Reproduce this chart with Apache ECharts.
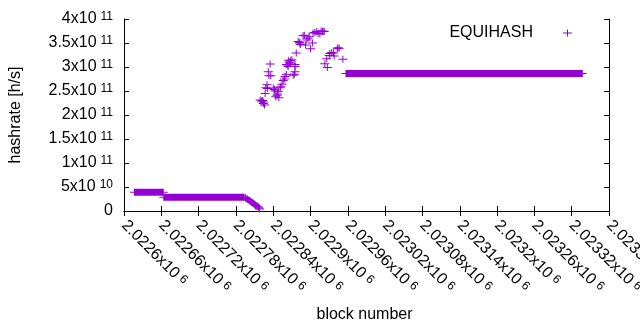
<!DOCTYPE html>
<html><head><meta charset="utf-8">
<script src="https://cdn.jsdelivr.net/npm/echarts@6/dist/echarts.min.js"></script>
<style>html,body{margin:0;padding:0;background:#fff}#c{width:640px;height:330px}</style>
</head><body><div id="c"></div>
<script>
// ---- data ----
const seriesName = 'EQUIHASH';
const xRange = [2022600, 2023380];
const xTickStep = 60;
const yRange = [0, 4e11];
const yTickStep = 5e10;

// long flat stretches (every block has the same hashrate): start block, end block, value
const runStart = [2022617, 2022664, 2022957];
const runEnd   = [2022663, 2022793, 2023337];
const runValue = [3.92e10, 2.85e10, 2.865e11];

// individual points
const pointBlocks = [
  2022795, 2022796, 2022798, 2022799, 2022801, 2022803, 2022804, 2022806, 2022808, 2022809,
  2022811, 2022812, 2022814, 2022816, 2022817, 2022818,
  2022819, 2022821, 2022823, 2022824, 2022824, 2022826, 2022827, 2022828, 2022830, 2022831,
  2022832, 2022833, 2022835, 2022836, 2022840, 2022842, 2022843, 2022844, 2022846, 2022847,
  2022848, 2022849, 2022851, 2022852, 2022854, 2022856, 2022858, 2022859, 2022861, 2022861,
  2022863, 2022864, 2022865, 2022866, 2022868, 2022868, 2022870, 2022872, 2022874, 2022875,
  2022875, 2022875, 2022877, 2022880, 2022882, 2022883, 2022884, 2022888, 2022890, 2022892,
  2022894, 2022896, 2022898, 2022900, 2022903, 2022904, 2022907, 2022910, 2022912, 2022915,
  2022917, 2022919, 2022920, 2022922, 2022923, 2022926, 2022927, 2022930, 2022931, 2022934,
  2022937, 2022938, 2022943, 2022944, 2022946, 2022952
];
const pointHashrate = [
  2.81e10, 2.67e10, 2.54e10, 2.40e10, 2.25e10, 2.08e10, 1.94e10, 1.77e10, 1.60e10, 1.46e10,
  1.29e10, 1.15e10, 0.98e10, 0.83e10, 0.63e10, 0.42e10,
  2.31e11, 2.29e11, 2.30e11, 2.27e11, 2.24e11, 2.21e11, 2.45e11, 2.57e11, 2.63e11, 2.55e11,
  2.90e11, 2.82e11, 3.06e11, 2.82e11, 2.56e11, 2.53e11, 2.50e11, 2.38e11, 2.41e11, 2.44e11,
  2.49e11, 2.36e11, 2.57e11, 2.59e11, 2.64e11, 2.72e11, 2.75e11, 2.80e11, 2.85e11, 3.05e11,
  3.04e11, 3.01e11, 3.14e11, 3.10e11, 3.13e11, 3.07e11, 3.15e11, 2.83e11, 2.85e11, 2.90e11,
  3.01e11, 3.05e11, 3.29e11, 3.53e11, 3.50e11, 3.51e11, 3.47e11, 3.65e11, 3.66e11, 3.46e11,
  3.56e11, 3.60e11, 3.63e11, 3.38e11, 3.50e11, 3.71e11, 3.72e11, 3.74e11, 3.70e11, 3.69e11,
  3.75e11, 3.74e11, 3.75e11, 3.74e11, 3.07e11, 3.17e11, 2.99e11, 3.24e11, 3.28e11, 3.30e11,
  3.29e11, 3.23e11, 3.38e11, 3.40e11, 3.39e11, 3.16e11
];

// ---- drawing ----
const COLOR = '#9400d3';
const FONT = "'Liberation Sans', Arial, sans-serif";
const PLUS = 'path://M4,0h1v3h4v1h-4v3h-1v-3h-4v-1h4z';
const LEGEND_PLUS = 'path://M0,0M60,7M29,0h1v3h4v1h-4v3h-1v-3h-4v-1h4z';

const rich = {
  m: {fontSize: 16, fontFamily: FONT, color: '#000'},
  s: {fontSize: 12, fontFamily: FONT, color: '#000', verticalAlign: 'top', padding: [0, 0, 0, 4]}
};
function sciY(v) {
  if (v === 0) return '{m|0}';
  const e = Math.floor(Math.log10(v) + 1e-9);
  const m = +(v / Math.pow(10, e)).toFixed(4);
  return '{m|' + m + 'x10}{s|' + e + '}';
}
function sciX(v) {
  const e = Math.floor(Math.log10(v) + 1e-9);
  const m = +(v / Math.pow(10, e)).toFixed(5);
  return '{m|' + m + 'x10}{s|' + e + '}';
}

const axisLine = {show: true, lineStyle: {color: '#000', width: 1}};
const tick = {show: true, inside: true, length: 5, lineStyle: {color: '#000'}};

const runSeries = runStart.map((s, i) => ({
  type: 'line', name: 'run' + i,
  data: [[s, runValue[i]], [runEnd[i], runValue[i]]],
  lineStyle: {width: 7, color: COLOR, cap: 'butt'},
  itemStyle: {color: COLOR},
  symbol: PLUS, symbolSize: [9, 7], showSymbol: true, showAllSymbol: true,
  animation: false, silent: true
}));

const chart = echarts.init(document.getElementById('c'), null, {renderer: 'canvas'});
chart.setOption({
  animation: false,
  backgroundColor: '#fff',
  textStyle: {fontFamily: FONT},
  grid: {left: 124, right: 31, top: 19, bottom: 119, containLabel: false, outerBoundsMode: 'none'},
  legend: {
    data: [{name: seriesName, icon: LEGEND_PLUS}],
    right: 37, top: 20, align: 'right',
    itemWidth: 60, itemHeight: 7,
    textStyle: {fontSize: 16, color: '#000', fontFamily: FONT},
    selectedMode: false
  },
  xAxis: [{
    type: 'value', position: 'bottom', min: xRange[0], max: xRange[1], interval: xTickStep,
    axisLine, axisTick: tick, splitLine: {show: false},
    axisLabel: {rotate: -45, margin: 12, formatter: sciX, rich},
    name: 'block number', nameLocation: 'middle', nameGap: 96,
    nameTextStyle: {fontSize: 16, color: '#000', fontFamily: FONT, padding: [0, 4, 0, 0]}
  }, {
    type: 'value', position: 'top', min: xRange[0], max: xRange[1], interval: xTickStep,
    axisLine, axisTick: tick, axisLabel: {show: false}, splitLine: {show: false}
  }],
  yAxis: [{
    type: 'value', position: 'left', min: yRange[0], max: yRange[1], interval: yTickStep,
    axisLine, axisTick: tick, splitLine: {show: false},
    axisLabel: {margin: 11, formatter: sciY, rich},
    name: 'hashrate [h/s]', nameLocation: 'middle', nameGap: 100, nameRotate: 90,
    nameTextStyle: {fontSize: 16, color: '#000', fontFamily: FONT}
  }, {
    type: 'value', position: 'right', min: yRange[0], max: yRange[1], interval: yTickStep,
    axisLine, axisTick: tick, axisLabel: {show: false}, splitLine: {show: false}
  }],
  series: [{
    type: 'scatter', name: seriesName,
    data: pointBlocks.map((b, i) => [b, pointHashrate[i]]),
    symbol: PLUS, symbolSize: [9, 7],
    itemStyle: {color: COLOR, opacity: 1},
    animation: false, silent: true
  }].concat(runSeries)
});
</script>
</body></html>
